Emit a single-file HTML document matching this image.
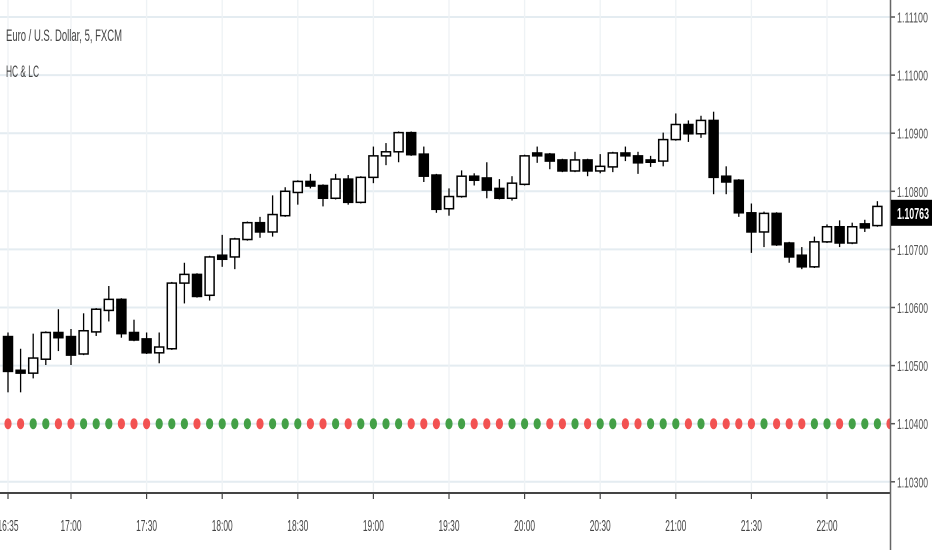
<!DOCTYPE html>
<html><head><meta charset="utf-8"><style>
html,body{margin:0;padding:0;background:#fff;}
svg{display:block;font-family:"Liberation Sans",sans-serif;}
</style></head><body>
<svg id="chart" width="932" height="550" viewBox="0 0 932 550" xmlns="http://www.w3.org/2000/svg">
<defs><clipPath id="plotclip"><rect x="0" y="0" width="890" height="492"/></clipPath></defs>
<g id="grid"></g>
<g id="candles" clip-path="url(#plotclip)"></g>
<g id="dots" clip-path="url(#plotclip)"></g>
<g id="axes"></g>
<text x="6" y="41" font-size="17" fill="#444" textLength="116" lengthAdjust="spacingAndGlyphs">Euro / U.S. Dollar, 5, FXCM</text>
<text x="6" y="77" font-size="17" fill="#444" textLength="33" lengthAdjust="spacingAndGlyphs">HC &amp; LC</text>
</svg>
<script>
// OHLC in points above 1.10000 (value = price*100000 - 110000)
const opens  = [550,492,487,511,557,550,520,558,595,614,557,546,522,529,642,657,621,690,687,717,746,730,758,798,817,810,788,821,781,824,861,868,901,864,828,770,791,826,823,805,788,812,866,864,854,835,854,835,842,866,861,854,852,889,915,899,922,826,819,763,730,762,711,690,670,713,739,711,744,741];
const highs  = [557,529,555,559,597,563,590,599,637,616,579,557,557,644,677,659,689,725,720,748,756,793,807,819,830,812,830,828,826,877,883,903,903,877,830,805,836,831,850,821,826,863,877,866,856,868,856,864,868,877,868,861,901,934,922,930,937,843,821,779,765,764,713,704,722,743,750,746,751,783];
const lows   = [454,454,478,501,525,501,518,551,576,548,542,520,504,527,607,617,612,670,666,715,720,722,756,777,805,774,786,777,779,814,845,850,861,816,763,758,789,810,788,786,784,810,849,838,833,833,826,831,833,852,830,842,843,887,885,892,795,795,756,694,704,706,677,666,668,711,704,709,730,739];
const closes = [490,487,513,557,548,518,560,597,614,555,544,522,532,642,657,619,687,683,718,746,730,760,800,817,809,788,821,781,824,861,868,901,863,826,769,791,826,819,802,788,814,861,861,852,835,854,835,843,866,861,849,850,889,915,899,922,824,816,763,730,762,708,687,670,713,739,711,739,737,774];
const dotColors = ["R","R","G","G","R","R","G","G","G","R","R","R","G","G","G","R","G","G","G","G","R","G","G","G","R","R","G","R","G","G","G","G","R","R","R","G",
 "G","R","R","R","G","G","G","R","R","G","R","G","G","R","R","G","G","G","R","G","R","R","R","R","G","R","R","R","G","G","R","G","G","G","R"];
const dotLevel = 400;
const priceTicks = [300,400,500,600,700,800,900,1000,1100];
const priceTickLabels = ["1.10300","1.10400","1.10500","1.10600","1.10700","1.10800","1.10900","1.11000","1.11100"];
const timeTickIdx = [0,5,11,17,23,29,35,41,47,53,59,65];
const timeTickLabels = ["16:35","17:00","17:30","18:00","18:30","19:00","19:30","20:00","20:30","21:00","21:30","22:00"];
const lastPrice = 763;
const lastPriceLabel = "1.10763";

const NS="http://www.w3.org/2000/svg";
function xAt(i){return 8+12.6*i;}
function yAt(v){return 17+(1100-v)*0.581;}
function mk(tag,attrs,parent){const e=document.createElementNS(NS,tag);for(const k in attrs)e.setAttribute(k,attrs[k]);parent.appendChild(e);return e;}
const grid=document.getElementById('grid'),cg=document.getElementById('candles'),dg=document.getElementById('dots'),ax=document.getElementById('axes');

priceTicks.forEach((v,k)=>{
  const l=mk('line',{x1:0,x2:890,y1:yAt(v),y2:yAt(v),stroke:'#e4ecf1','stroke-width':2},grid);
  
  
  const t=mk('line',{x1:890,x2:895,y1:yAt(v),y2:yAt(v),stroke:'#555','stroke-width':1.5},ax);
  
  
  const tx=mk('text',{x:897,y:yAt(v)+5.5,'font-size':15,fill:'#555',textLength:31,lengthAdjust:'spacingAndGlyphs'},ax);
  tx.textContent=priceTickLabels[k];
  
  
});
timeTickIdx.forEach((i,k)=>{
  const x=xAt(i);
  const l=mk('line',{x1:x,x2:x,y1:0,y2:492,stroke:'#eef2f5','stroke-width':1.3},grid);
  
  
  const t=mk('line',{x1:x,x2:x,y1:493,y2:499,stroke:'#444','stroke-width':1.2},ax);
  
  
  const tx=mk('text',{x:x,y:531,'font-size':16,fill:'#444','text-anchor':'middle',textLength:21,lengthAdjust:'spacingAndGlyphs'},ax);
  tx.textContent=timeTickLabels[k];
  
  
});
const axl=mk('line',{x1:0,x2:890,y1:493,y2:493,stroke:'#444','stroke-width':2},ax);


const ayl=mk('line',{x1:890.5,x2:890.5,y1:0,y2:550,stroke:'#666','stroke-width':1.5},ax);



opens.forEach((o,i)=>{
  const x=xAt(i),c=closes[i],up=c>=o;
  const w=mk('line',{x1:x,x2:x,y1:yAt(highs[i]),y2:yAt(lows[i]),stroke:'#000','stroke-width':1.3},cg);
  
  
  const top=yAt(Math.max(o,c)),bot=yAt(Math.min(o,c));
  const b=mk('rect',{x:x-4.5,y:top,width:9,height:Math.max(bot-top,2),fill:up?'#fff':'#000',stroke:'#000','stroke-width':1.5},cg);
  
  
});
dotColors.forEach((c,i)=>{
  const d=mk('ellipse',{cx:xAt(i),cy:yAt(dotLevel),rx:3.6,ry:5.5,fill:c==='R'?'#f25252':'#43a047'},dg);
  
  
});
const ly=yAt(lastPrice);
const lb=mk('rect',{x:891,y:ly-13,width:41,height:26,fill:'#000'},ax);


const lt=mk('text',{x:897,y:ly+6,'font-size':16,'font-weight':'bold',fill:'#fff',textLength:32,lengthAdjust:'spacingAndGlyphs'},ax);
lt.textContent=lastPriceLabel;


</script>
</body></html>
